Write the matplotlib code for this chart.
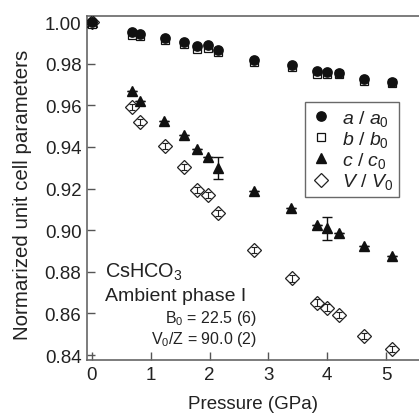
import matplotlib
matplotlib.use("Agg")
import matplotlib.pyplot as plt
import numpy as np

plt.rcParams['font.family'] = ['Liberation Sans', 'DejaVu Sans']
plt.rcParams['mathtext.fontset'] = 'custom'
plt.rcParams['mathtext.rm'] = 'Liberation Sans'
plt.rcParams['mathtext.it'] = 'Liberation Sans:italic'
plt.rcParams['mathtext.bf'] = 'Liberation Sans:bold'

# Data
P = [0.0, 0.68, 0.81, 1.24, 1.56, 1.78, 1.98, 2.15, 2.75, 3.40, 3.82, 4.00, 4.20, 4.62, 5.10]
a_ratio = [1.000, 0.9952, 0.9942, 0.9925, 0.9905, 0.9883, 0.9890, 0.9867, 0.9819, 0.9793, 0.9763, 0.9760, 0.9755, 0.9726, 0.9712]
b_ratio = [0.999, 0.9940, 0.9932, 0.9913, 0.9893, 0.9872, 0.9877, 0.9856, 0.9808, 0.9783, 0.9752, 0.9750, 0.9748, 0.9716, 0.9708]
P_c = [0.0, 0.68, 0.81, 1.22, 1.56, 1.78, 1.98, 2.15, 2.75, 3.39, 3.82, 4.00, 4.20, 4.63, 5.10]
c_ratio = [1.000, 0.967, 0.962, 0.9525, 0.9457, 0.939, 0.9352, 0.930, 0.919, 0.9106, 0.9024, 0.9008, 0.8984, 0.8925, 0.8874]
c_err = [0, 0, 0, 0, 0, 0, 0, 0.0053, 0, 0, 0, 0.0053, 0, 0, 0]
P_v = [0.0, 0.68, 0.81, 1.24, 1.56, 1.78, 1.98, 2.15, 2.75, 3.40, 3.82, 4.00, 4.20, 4.63, 5.10]
v_ratio = [1.000, 0.959, 0.952, 0.9405, 0.9304, 0.9194, 0.917, 0.9082, 0.8905, 0.8768, 0.8652, 0.8628, 0.8593, 0.8492, 0.8428]
v_err = [0.0015] * 15

xticks = [0, 1, 2, 3, 4, 5]
yticks = [0.84, 0.86, 0.88, 0.90, 0.92, 0.94, 0.96, 0.98, 1.00]

txt = '#222222'
fig = plt.figure(figsize=(4.19, 4.14), dpi=100)
ax = fig.add_axes([87/419, 53/414, 332/419, 344/414])

# V/V0 diamonds with small error bars
ax.errorbar(P_v, v_ratio, yerr=v_err, fmt='none', ecolor='#222', elinewidth=0.8, capsize=2.0, capthick=0.8, zorder=2)
ax.plot(P_v, v_ratio, linestyle='none', marker='D', markersize=7.0, markerfacecolor='none',
        markeredgecolor='#222', markeredgewidth=0.9, label=r'$\mathit{V\ /\ V}_{\mathrm{0}}$', zorder=3)
# c/c0 triangles
ax.errorbar(P_c, c_ratio, yerr=c_err, fmt='none', ecolor='#111', elinewidth=1.0, capsize=3.5, capthick=1.0, zorder=2)
ax.plot(P_c, c_ratio, linestyle='none', marker='^', markersize=7.8, color='#111',
        label=r'$\mathit{c\ /\ c}_{\mathrm{0}}$', zorder=3)
# b/b0 squares
ax.plot(P, b_ratio, linestyle='none', marker='s', markersize=6.3, markerfacecolor='white',
        markeredgecolor='#111', markeredgewidth=0.9, label=r'$\mathit{b\ /\ b}_{\mathrm{0}}$', zorder=4)
# a/a0 circles
ax.plot(P, a_ratio, linestyle='none', marker='o', markersize=6.7, color='#111',
        label=r'$\mathit{a\ /\ a}_{\mathrm{0}}$', zorder=5)

ax.set_xlim(-0.085, 5.56)
ax.set_ylim(0.8376, 1.0029)
ax.set_xticks(xticks)
ax.set_xticklabels([str(t) for t in xticks])
ax.set_yticks(yticks)
ax.set_yticklabels([f'{t:.2f}' for t in yticks])
ax.tick_params(direction='in', length=6, width=1.0, colors='#555', labelcolor=txt,
               labelsize=13.5, top=False, right=False, pad=4)
for s in ['left', 'bottom', 'top']:
    ax.spines[s].set_color('#666')
    ax.spines[s].set_linewidth(1.2)
ax.spines['right'].set_visible(False)

ax.set_xlabel('Pressure (GPa)', fontsize=13.5, color=txt, labelpad=9)
ax.set_ylabel('Normarized unit cell parameters', fontsize=14.8, color=txt)
ax.yaxis.set_label_coords(-0.166, 0.483)

handles, labels = ax.get_legend_handles_labels()
order = [3, 2, 1, 0]
leg = ax.legend([handles[i] for i in order], [labels[i] for i in order],
                loc='upper right', bbox_to_anchor=(0.94, 0.75), borderaxespad=0,
                fontsize=14, frameon=True, fancybox=False, handlelength=1.0,
                handletextpad=0.6, labelspacing=0.06, borderpad=0.3, labelcolor=txt)
leg.get_frame().set_edgecolor('#444')
leg.get_frame().set_linewidth(1.0)

ax.text(0.22, 0.8800, r'CsHCO$_{\mathrm{3}}$', fontsize=14.3, color=txt, va='center', ha='left')
ax.text(0.22, 0.8688, 'Ambient phase I', fontsize=14.0, color=txt, va='center', ha='left')
ax.text(2.81, 0.8582, r'B$_{\mathrm{0}}$ = 22.5 (6)', fontsize=11.5, color=txt, va='center', ha='right')
ax.text(2.81, 0.8477, r'V$_{\mathrm{0}}$/Z = 90.0 (2)', fontsize=11.5, color=txt, va='center', ha='right')

fig.savefig('out.png', dpi=100)
